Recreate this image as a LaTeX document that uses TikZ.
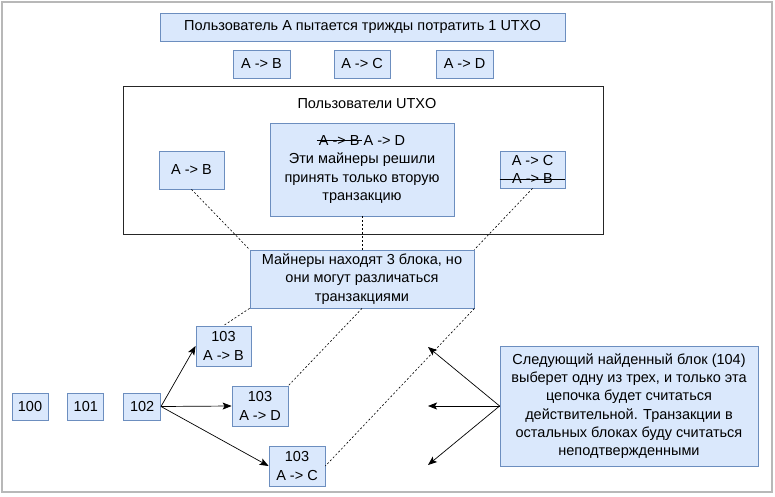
\documentclass[tikz,border=0pt]{standalone}
\usepackage{fontspec}
\setmainfont{Liberation Sans}
\usetikzlibrary{arrows.meta, positioning}
\definecolor{boxfill}{HTML}{DAE8FC}
\definecolor{boxline}{HTML}{6C8EBF}
\definecolor{framegray}{HTML}{B8B8B8}
\newcommand{\diagfont}{\fontsize{14.5}{18.3}\selectfont}
\newcommand{\struck}[1]{\setbox0\hbox{#1}\kern-2pt\rlap{\rule[0.3em]{\dimexpr\wd0+4pt\relax}{0.7pt}}\kern2pt\box0\relax}

\begin{document}
\begin{tikzpicture}[
  x=1pt, y=-1pt,
  blk/.style={draw=boxline, fill=boxfill, line width=0.8pt, align=center, inner sep=0pt, font=\diagfont},
  plain/.style={align=center, inner sep=0pt, font=\diagfont},
  edge/.style={-{Stealth[length=9pt, width=7pt, inset=2pt]}, line width=0.7pt},
  link/.style={line width=0.6pt, dash pattern=on 2pt off 2pt}
]
\useasboundingbox (0,0) rectangle (775,497);
\draw[framegray, line width=2.5pt] (2,2) rectangle (772,492);

\node[blk, minimum width=405, minimum height=28] (title) at (362.5,27) {Пользователь А пытается трижды потратить 1 UTXO};
\node[blk, minimum width=57, minimum height=28] (ab) at (261.5,64) {A -> B};
\node[blk, minimum width=56, minimum height=28] (ac) at (362,64) {A -> C};
\node[blk, minimum width=57, minimum height=28] (ad) at (464.5,64) {A -> D};

\node[draw=black!85, line width=0.9pt, minimum width=480, minimum height=148] (users) at (363,160) {};
\node[plain] (userslabel) at (367,104) {Пользователи UTXO};
\node[blk, minimum width=65, minimum height=38] (lab) at (191.5,170) {A -> B};
\node[blk, minimum width=184, minimum height=93] (mid) at (362,169.5)
  {\struck{A -> B} A -> D\\Эти майнеры решили\\принять только вторую\\транзакцию};
\node[blk, minimum width=65, minimum height=37] (rab) at (532.5,169.5) {A -> C\\A -> B};
\draw[line width=0.7pt] ([yshift=-9.5]rab.west) -- ([yshift=-9.5]rab.east);

\node[blk, minimum width=224, minimum height=58] (miners) at (362,279)
  {Майнеры находят 3 блока, но\\они могут различаться\\транзакциями};

\node[blk, minimum width=36, minimum height=27] (b100) at (30,406.5) {100};
\node[blk, minimum width=36, minimum height=27, right=19 of b100] (b101) {101};
\node[blk, minimum width=37, minimum height=27, right=19 of b101] (b102) {102};
\node[blk, minimum width=55, minimum height=40] (b103b) at (223.5,346) {103\\A -> B};
\node[blk, minimum width=56, minimum height=40] (b103d) at (260,406) {103\\A -> D};
\node[blk, minimum width=56, minimum height=40] (b103c) at (297,466) {103\\A -> C};

\node[blk, minimum width=258, minimum height=120] (next) at (629,406)
  {Следующий найденный блок (104)\\выберет одну из трех, и только эта\\цепочка будет считаться\\действительной. Транзакции в\\остальных блоках буду считаться\\неподтвержденными};
\coordinate (pick1) at (428,347);
\coordinate (pick2) at (428,406);
\coordinate (pick3) at (428,465);

\draw[link] (lab.south) -- (miners.north west);
\draw[link] (mid.south) -- (miners.north);
\draw[link] (rab.south) -- (miners.north east);
\draw[link] (miners.south west) -- (b103b.north);
\draw[link] (miners.south) -- (b103d.north east);
\draw[link] (miners.south east) -- (b103c.east);

\draw[edge] (b102.east) -- (b103b.west);
\draw[edge] (b102.east) -- (b103d.west);
\draw[edge] (b102.east) -- (b103c.west);
\draw[edge] (next.west) -- (pick1);
\draw[edge] (next.west) -- (pick2);
\draw[edge] (next.west) -- (pick3);
\end{tikzpicture}
\end{document}
